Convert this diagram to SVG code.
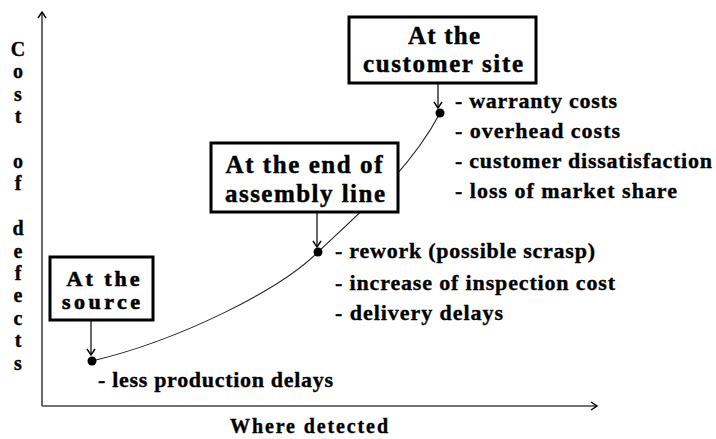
<svg xmlns="http://www.w3.org/2000/svg" width="716" height="439" viewBox="0 0 716 439">
  <style>
    .t { font-family: "Liberation Serif", "Times New Roman", serif; font-weight: bold; fill: #000; stroke: #000; stroke-width: 0.35; }
    .title { font-size: 25px; text-anchor: middle; stroke-width: 0.45; }
    .small { font-size: 22px; stroke-width: 0.6; }
    .item { font-size: 22px; }
    .axislbl { font-size: 20px; text-anchor: middle; }
    .box { fill: #fff; stroke: #000; stroke-width: 3; }
    .axis { stroke: #444; stroke-width: 1.6; fill: none; }
    .ptr { stroke: #000; stroke-width: 1.2; fill: none; }
    .head { stroke: #000; stroke-width: 1.4; fill: none; }
    .curve { stroke: #222; stroke-width: 1.1; fill: none; }
  </style>

  <rect width="716" height="439" fill="#fff"/>

  <!-- axes -->
  <g id="axes">
    <path class="axis" d="M42,406 L42,12"/>
    <path class="head" d="M38,18 L42,12 L46,18"/>
    <path class="axis" d="M42,406 L597,406"/>
    <path class="head" d="M591,402 L597,406 L591,410"/>
    <text class="t axislbl" x="309" y="433" textLength="158">Where detected</text>
    <g class="t axislbl">
      <text x="18" y="56">C</text>
      <text x="18" y="78.4">o</text>
      <text x="18" y="100.8">s</text>
      <text x="18" y="123.2">t</text>
      <text x="18" y="168">o</text>
      <text x="18" y="190.4">f</text>
      <text x="18" y="235.2">d</text>
      <text x="18" y="257.6">e</text>
      <text x="18" y="280">f</text>
      <text x="18" y="302.4">e</text>
      <text x="18" y="324.8">c</text>
      <text x="18" y="347.2">t</text>
      <text x="18" y="369.6">s</text>
    </g>
  </g>

  <!-- connectors: cost curve and pointers from each stage box -->
  <g id="connectors">
    <path class="curve" d="M92,361 C180,340 280,290 318,252 C360,212 410,170 440,113"/>
    <path class="ptr" d="M91,320 L91,355"/>
    <path class="head" d="M87,349 L91,355 L95,349"/>
    <path class="ptr" d="M317,212 L317,247"/>
    <path class="head" d="M313,241 L317,247 L321,241"/>
    <path class="ptr" d="M438,83 L438,108"/>
    <path class="head" d="M434,102 L438,108 L442,102"/>
    <circle cx="92" cy="361" r="4.5" fill="#000"/>
    <circle cx="318" cy="252" r="4.5" fill="#000"/>
    <circle cx="440" cy="113" r="4.5" fill="#000"/>
  </g>

  <!-- stage: at the source -->
  <g id="source">
    <rect class="box" x="50" y="257" width="103" height="63"/>
    <text class="t title small" x="103" y="286" textLength="73">At the</text>
    <text class="t title small" x="101" y="309" textLength="78">source</text>
    <text class="t item" x="98" y="387" textLength="235">- less production delays</text>
  </g>

  <!-- stage: end of assembly line -->
  <g id="assembly">
    <rect class="box" x="211" y="143" width="187" height="69"/>
    <text class="t title" x="304" y="173" textLength="157">At the end of</text>
    <text class="t title" x="305" y="202" textLength="160">assembly line</text>
    <text class="t item" x="335" y="258" textLength="260">- rework (possible scrasp)</text>
    <text class="t item" x="335" y="290" textLength="280">- increase of inspection cost</text>
    <text class="t item" x="335" y="320" textLength="168">- delivery delays</text>
  </g>

  <!-- stage: customer site -->
  <g id="customer">
    <rect class="box" x="349" y="17" width="187" height="66"/>
    <text class="t title" x="444" y="44" textLength="72">At the</text>
    <text class="t title" x="443" y="72" textLength="160">customer site</text>
    <text class="t item" x="455" y="108" textLength="162">- warranty costs</text>
    <text class="t item" x="455" y="138" textLength="165">- overhead costs</text>
    <text class="t item" x="455" y="168" textLength="257">- customer dissatisfaction</text>
    <text class="t item" x="455" y="198" textLength="222">- loss of market share</text>
  </g>
</svg>
